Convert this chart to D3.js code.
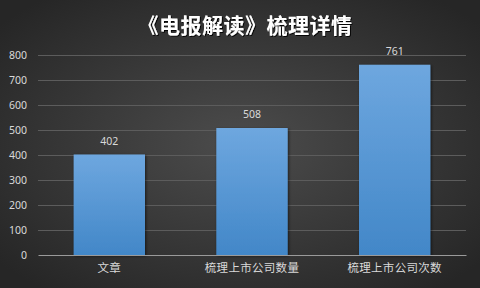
<!DOCTYPE html>
<html>
<head>
<meta charset="utf-8">
<script src="https://cdn.jsdelivr.net/npm/d3@7"></script>
<style>
  html, body { margin: 0; padding: 0; background: #333; }
  svg { display: block; font-family: "Noto Sans CJK SC", "Microsoft YaHei", sans-serif; }
</style>
</head>
<body>
<div id="chart"></div>
<script>
const title = '《电报解读》梳理详情';
const categories = ['文章', '梳理上市公司数量', '梳理上市公司次数'];
const values = [402, 508, 761];
const yTicks = [0, 100, 200, 300, 400, 500, 600, 700, 800];

const width = 480;
const height = 288;
const margin = { top: 55, right: 14, bottom: 33, left: 38 };

const svg = d3.select('#chart')
    .append('svg')
    .attr('width', width)
    .attr('height', height);

const defs = svg.append('defs');

// Background radial gradient
const bg = defs.append('radialGradient')
    .attr('id', 'bg')
    .attr('cx', '50%').attr('cy', '50%').attr('r', '65%');
bg.append('stop').attr('offset', '0%').attr('stop-color', '#4c4c4c');
bg.append('stop').attr('offset', '100%').attr('stop-color', '#262626');

// Bar gradient
const barGrad = defs.append('linearGradient')
    .attr('id', 'barGrad')
    .attr('x1', 0).attr('y1', 0).attr('x2', 0).attr('y2', 1);
barGrad.append('stop').attr('offset', '0%').attr('stop-color', '#6ea7df');
barGrad.append('stop').attr('offset', '100%').attr('stop-color', '#4287c8');

const shadow = defs.append('filter').attr('id', 'shadow')
    .attr('x', '-20%').attr('y', '-20%').attr('width', '140%').attr('height', '140%');
shadow.append('feDropShadow')
    .attr('dx', 1).attr('dy', 1).attr('stdDeviation', 1.5)
    .attr('flood-color', '#000').attr('flood-opacity', 0.6);

const titleShadow = defs.append('filter').attr('id', 'titleShadow');
titleShadow.append('feDropShadow')
    .attr('dx', 1).attr('dy', 1).attr('stdDeviation', 0.6)
    .attr('flood-color', '#000').attr('flood-opacity', 0.9);

svg.append('rect')
    .attr('width', width).attr('height', height)
    .attr('fill', 'url(#bg)');

// Title
svg.append('text')
    .attr('x', 245)
    .attr('y', 33)
    .attr('text-anchor', 'middle')
    .attr('fill', '#ffffff')
    .attr('font-size', 21)
    .attr('font-weight', 'bold')
    .attr('letter-spacing', 0.5)
    .attr('filter', 'url(#titleShadow)')
    .text(title);

const x = d3.scaleBand()
    .domain(categories)
    .range([margin.left, width - margin.right])
    .paddingInner(0.5)
    .paddingOuter(0.25);

const y = d3.scaleLinear()
    .domain([0, 800])
    .range([height - margin.bottom, margin.top]);

// Gridlines
svg.append('g')
    .selectAll('line')
    .data(yTicks.filter(d => d > 0))
    .join('line')
    .attr('x1', margin.left)
    .attr('x2', width - margin.right)
    .attr('y1', d => y(d) + 0.5)
    .attr('y2', d => y(d) + 0.5)
    .attr('stroke', '#5c5c5c')
    .attr('stroke-width', 1);

// Y axis labels
const yAxis = d3.axisLeft(y).tickValues(yTicks).tickSize(0).tickPadding(11);
svg.append('g')
    .attr('transform', `translate(${margin.left},0)`)
    .call(yAxis)
    .call(g => g.select('.domain').remove())
    .call(g => g.selectAll('text')
        .attr('fill', '#d9d9d9')
        .attr('font-size', 10.5)
        .attr('font-family', '"Noto Sans", sans-serif'));

// Bars
svg.append('g')
    .selectAll('rect')
    .data(values)
    .join('rect')
    .attr('x', (d, i) => x(categories[i]))
    .attr('y', d => y(d))
    .attr('width', x.bandwidth())
    .attr('height', d => y(0) - y(d))
    .attr('fill', 'url(#barGrad)')
    .attr('filter', 'url(#shadow)');

// Value labels
svg.append('g')
    .selectAll('text')
    .data(values)
    .join('text')
    .attr('x', (d, i) => x(categories[i]) + x.bandwidth() / 2)
    .attr('y', d => y(d) - 10)
    .attr('text-anchor', 'middle')
    .attr('fill', '#d9d9d9')
    .attr('font-size', 10.5)
    .attr('font-family', '"Noto Sans", sans-serif')
    .text(d => d);

// X axis
const xAxis = d3.axisBottom(x).tickSize(0).tickPadding(9);
svg.append('g')
    .attr('transform', `translate(0,${y(0)})`)
    .call(xAxis)
    .call(g => g.select('.domain')
        .attr('stroke', '#9a9a9a')
        .attr('stroke-width', 1.2))
    .call(g => g.selectAll('text')
        .attr('fill', '#d9d9d9')
        .attr('font-size', 11.5)
        .attr('letter-spacing', 0.3)
        .attr('font-family', '"Noto Sans CJK SC", sans-serif'));
</script>
</body>
</html>
